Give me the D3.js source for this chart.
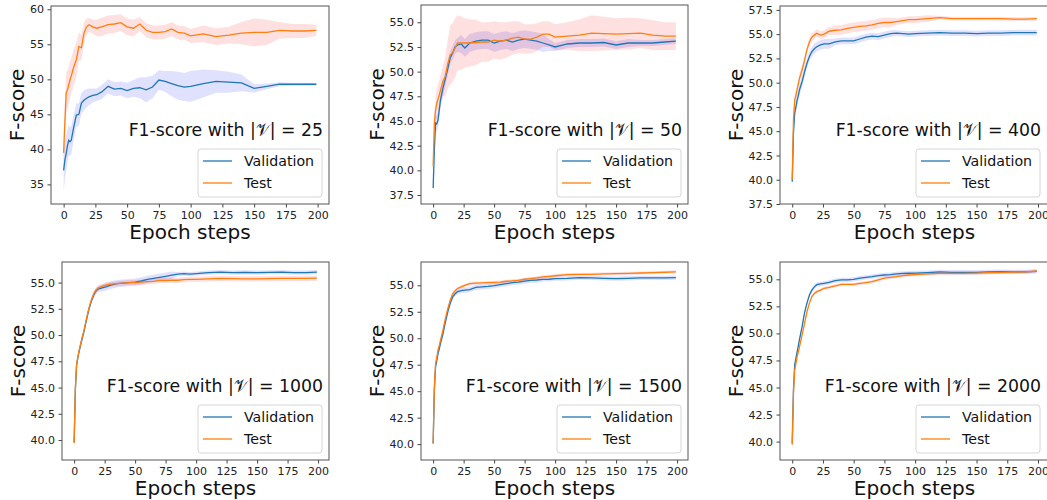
<!DOCTYPE html>
<html>
<head>
<meta charset="utf-8">
<script src="https://cdn.jsdelivr.net/npm/d3@7"></script>
<style>
  body { margin: 0; background: #fff; }
  svg { font-family: "DejaVu Sans", sans-serif; }
</style>
</head>
<body>
<svg id="chart" width="1047" height="500"></svg>
<script>
let epochs = [0, 1, 2, 3, 4, 5, 6, 8, 10, 12, 14, 16, 18, 20, 23, 26, 30, 35, 40, 45, 50,
    55, 60, 65, 70, 75, 80, 85, 90, 95, 100, 110, 120, 130, 140, 150, 160, 170, 180, 190, 199]

let sizes = ['25', '50', '400', '1000', '1500', '2000']
let xTicks = [0, 25, 50, 75, 100, 125, 150, 175, 200]

// |V| = 25
let val25 = [37.0, 38.5, 39.4, 40.5, 41.3, 41.1, 41.3, 43.2, 44.9, 45.0, 46.6, 47.0, 47.3, 47.5, 47.7, 47.8, 48.2, 49.0, 48.6, 48.7, 48.4,
    48.7, 48.8, 48.5, 48.9, 49.9, 49.7, 49.4, 49.1, 48.9, 49.0, 49.4, 49.7, 49.6, 49.5, 48.7, 49.0, 49.3, 49.3, 49.3, 49.3]
let valSd25 = [3.0, 2.8, 2.5, 2.3, 2.2, 2.0, 2.0, 1.8, 1.7, 1.6, 1.5, 1.4, 1.3, 1.2, 1.0, 0.9, 1.0, 1.0, 1.0, 1.0, 1.1,
    1.2, 1.5, 1.8, 1.6, 1.4, 1.5, 1.8, 2.0, 2.0, 2.2, 2.0, 1.6, 1.5, 1.2, 0.6, 0.4, 0.3, 0.2, 0.2, 0.2]
let test25 = [39.5, 44.0, 48.0, 48.5, 49.2, 49.9, 50.5, 51.8, 52.8, 54.7, 54.5, 56.6, 57.5, 57.8, 57.5, 57.3, 57.5, 57.8, 57.9, 58.1, 57.5,
    57.3, 57.9, 57.0, 56.7, 56.7, 56.8, 57.2, 56.7, 56.6, 56.2, 56.5, 56.1, 56.3, 56.6, 56.7, 56.7, 57.0, 56.9, 56.9, 57.0]
let testSd25 = [2.0, 3.0, 3.0, 2.8, 2.6, 2.5, 2.5, 2.5, 2.5, 2.0, 1.8, 1.5, 1.2, 1.0, 1.0, 1.2, 1.3, 1.3, 1.3, 1.2, 1.2,
    1.2, 1.0, 1.0, 1.0, 1.0, 1.0, 1.0, 1.0, 1.0, 1.0, 1.2, 1.2, 1.2, 1.6, 2.0, 1.8, 1.2, 1.0, 1.0, 0.8]

// |V| = 50
let val50 = [38.2, 42.1, 44.8, 44.7, 45.1, 46.1, 47.1, 48.3, 49.3, 50.3, 51.4, 51.9, 52.5, 52.7, 52.8, 52.4, 52.9, 53.1, 53.2, 53.2, 52.9,
    53.1, 53.2, 53.0, 53.2, 53.3, 53.2, 53.1, 52.9, 52.7, 52.5, 52.8, 52.9, 52.9, 52.95, 52.7, 52.9, 52.9, 52.9, 53.0, 53.1]
let valSd50 = [0.6, 0.8, 0.8, 0.8, 0.8, 0.8, 0.8, 0.8, 0.8, 0.7, 0.7, 0.7, 0.7, 0.7, 0.9, 0.9, 0.9, 0.9, 0.9, 0.9, 0.9,
    0.9, 0.9, 0.9, 0.9, 0.9, 0.9, 0.9, 0.9, 0.6, 0.4, 0.4, 0.4, 0.4, 0.4, 0.4, 0.4, 0.3, 0.3, 0.3, 0.3]
let test50 = [40.4, 44.8, 46.1, 46.8, 47.2, 47.6, 48.1, 49.0, 49.5, 50.8, 51.7, 51.9, 52.4, 52.9, 52.9, 52.9, 52.9, 52.95, 53.0, 53.0, 53.2,
    53.1, 53.2, 53.4, 53.5, 53.3, 53.3, 53.5, 53.8, 53.8, 53.5, 53.6, 53.7, 53.9, 53.85, 53.8, 53.85, 53.9, 53.7, 53.6, 53.6]
let testSd50 = [0.5, 1.0, 1.2, 1.5, 1.5, 1.5, 1.5, 1.5, 2.0, 2.5, 3.0, 3.0, 3.0, 2.8, 2.7, 2.5, 2.4, 2.3, 2.0, 2.0, 1.9,
    1.9, 1.8, 1.7, 1.6, 1.5, 1.5, 1.4, 1.3, 1.3, 1.3, 1.4, 1.6, 1.8, 1.7, 1.6, 1.6, 1.5, 1.5, 1.4, 1.4]

// |V| = 400
let val400 = [39.8, 44.8, 46.9, 47.5, 48.2, 48.7, 49.3, 50.1, 51.1, 52.0, 52.7, 53.2, 53.5, 53.7, 53.9, 54.0, 54.0, 54.2, 54.3, 54.3, 54.3,
    54.5, 54.7, 54.8, 54.75, 54.9, 55.05, 55.1, 55.05, 55.0, 55.05, 55.1, 55.15, 55.1, 55.1, 55.05, 55.1, 55.1, 55.15, 55.15, 55.15]
let valSd400 = [0.8, 0.6, 0.6, 0.6, 0.6, 0.6, 0.6, 0.6, 0.6, 0.5, 0.5, 0.5, 0.5, 0.5, 0.5, 0.5, 0.5, 0.35, 0.35, 0.35, 0.35,
    0.35, 0.35, 0.35, 0.35, 0.35, 0.35, 0.3, 0.3, 0.3, 0.3, 0.3, 0.3, 0.3, 0.3, 0.3, 0.3, 0.3, 0.3, 0.3, 0.3]
let test400 = [40.0, 46.2, 48.2, 48.7, 49.3, 49.9, 50.5, 51.3, 52.3, 53.4, 54.2, 54.7, 54.9, 55.1, 54.9, 55.0, 55.3, 55.4, 55.45, 55.6, 55.7,
    55.8, 55.85, 55.95, 56.1, 56.2, 56.2, 56.3, 56.4, 56.5, 56.5, 56.6, 56.7, 56.6, 56.6, 56.6, 56.6, 56.6, 56.55, 56.55, 56.6]
let testSd400 = [0.5, 0.5, 0.5, 0.5, 0.5, 0.5, 0.5, 0.5, 0.5, 0.4, 0.4, 0.4, 0.4, 0.4, 0.4, 0.4, 0.4, 0.5, 0.5, 0.5, 0.5,
    0.5, 0.5, 0.5, 0.5, 0.5, 0.5, 0.35, 0.35, 0.35, 0.35, 0.35, 0.2, 0.2, 0.2, 0.2, 0.2, 0.2, 0.2, 0.2, 0.2]

// |V| = 1000
let val1000 = [39.8, 44.8, 47.1, 47.8, 48.4, 48.9, 49.4, 50.3, 51.4, 52.4, 53.2, 53.8, 54.2, 54.4, 54.5, 54.6, 54.75, 54.9, 54.95, 55.0, 55.05,
    55.15, 55.3, 55.4, 55.5, 55.6, 55.7, 55.8, 55.85, 55.8, 55.85, 55.95, 56.0, 55.95, 55.97, 55.95, 55.97, 56.0, 55.95, 55.95, 56.0]
let valSd1000 = [0.3, 0.3, 0.3, 0.3, 0.3, 0.3, 0.3, 0.3, 0.3, 0.3, 0.3, 0.3, 0.3, 0.3, 0.35, 0.35, 0.35, 0.35, 0.35, 0.35, 0.35,
    0.35, 0.35, 0.35, 0.35, 0.35, 0.35, 0.2, 0.2, 0.2, 0.2, 0.2, 0.2, 0.2, 0.2, 0.2, 0.2, 0.2, 0.2, 0.2, 0.2]
let test1000 = [39.7, 44.9, 47.2, 47.9, 48.5, 49.0, 49.5, 50.4, 51.5, 52.5, 53.3, 53.9, 54.3, 54.5, 54.65, 54.75, 54.85, 54.9, 54.95, 55.0, 55.0,
    55.05, 55.1, 55.12, 55.2, 55.2, 55.22, 55.22, 55.28, 55.3, 55.3, 55.35, 55.4, 55.38, 55.35, 55.35, 55.38, 55.4, 55.4, 55.4, 55.42]
let testSd1000 = [0.3, 0.25, 0.25, 0.25, 0.25, 0.25, 0.25, 0.25, 0.25, 0.25, 0.25, 0.25, 0.25, 0.25, 0.25, 0.25, 0.25, 0.25, 0.25, 0.25, 0.25,
    0.25, 0.25, 0.25, 0.25, 0.25, 0.25, 0.25, 0.25, 0.25, 0.25, 0.25, 0.25, 0.25, 0.25, 0.25, 0.25, 0.25, 0.25, 0.25, 0.25]

// |V| = 1500
let val1500 = [40.06, 45.1, 47.3, 47.9, 48.55, 49.0, 49.5, 50.4, 51.5, 52.5, 53.3, 53.9, 54.2, 54.4, 54.5, 54.55, 54.6, 54.8, 54.85, 54.9, 54.97,
    55.06, 55.15, 55.25, 55.3, 55.4, 55.47, 55.5, 55.55, 55.57, 55.63, 55.66, 55.72, 55.7, 55.66, 55.63, 55.66, 55.7, 55.7, 55.7, 55.72]
let valSd1500 = [0.3, 0.25, 0.25, 0.25, 0.25, 0.25, 0.25, 0.25, 0.25, 0.25, 0.25, 0.25, 0.25, 0.25, 0.25, 0.25, 0.25, 0.25, 0.25, 0.25, 0.25,
    0.25, 0.25, 0.25, 0.25, 0.25, 0.25, 0.25, 0.2, 0.2, 0.2, 0.2, 0.2, 0.2, 0.2, 0.2, 0.2, 0.2, 0.2, 0.2, 0.2]
let test1500 = [40.06, 45.4, 47.6, 48.2, 48.9, 49.3, 49.8, 50.75, 51.85, 52.8, 53.6, 54.2, 54.5, 54.7, 54.85, 55.0, 55.15, 55.2, 55.22, 55.25, 55.27,
    55.3, 55.38, 55.41, 55.47, 55.57, 55.63, 55.7, 55.8, 55.85, 55.9, 56.0, 56.04, 56.04, 56.07, 56.1, 56.13, 56.16, 56.2, 56.23, 56.26]
let testSd1500 = [0.2, 0.15, 0.15, 0.15, 0.15, 0.15, 0.15, 0.15, 0.15, 0.15, 0.15, 0.15, 0.15, 0.15, 0.15, 0.15, 0.15, 0.15, 0.15, 0.15, 0.15,
    0.15, 0.15, 0.15, 0.15, 0.15, 0.15, 0.15, 0.15, 0.15, 0.15, 0.15, 0.15, 0.15, 0.15, 0.15, 0.15, 0.15, 0.15, 0.15, 0.15]

// |V| = 2000
let val2000 = [39.85, 44.8, 47.1, 47.7, 48.3, 48.9, 49.5, 50.6, 51.9, 52.8, 53.55, 54.0, 54.3, 54.5, 54.57, 54.63, 54.72, 54.88, 54.94, 54.95, 55.0,
    55.1, 55.18, 55.25, 55.34, 55.4, 55.43, 55.5, 55.55, 55.56, 55.58, 55.62, 55.68, 55.65, 55.65, 55.65, 55.68, 55.7, 55.68, 55.68, 55.74]
let valSd2000 = [0.3, 0.2, 0.2, 0.2, 0.2, 0.2, 0.2, 0.2, 0.2, 0.2, 0.2, 0.2, 0.2, 0.2, 0.2, 0.2, 0.2, 0.2, 0.2, 0.2, 0.2,
    0.2, 0.2, 0.2, 0.2, 0.2, 0.2, 0.2, 0.2, 0.2, 0.2, 0.2, 0.2, 0.2, 0.2, 0.2, 0.2, 0.2, 0.2, 0.2, 0.2]
let test2000 = [39.7, 44.5, 46.6, 47.2, 47.85, 48.3, 48.8, 49.85, 50.9, 52.0, 52.8, 53.4, 53.7, 53.86, 54.0, 54.17, 54.26, 54.4, 54.54, 54.54, 54.54,
    54.63, 54.7, 54.78, 54.94, 55.1, 55.18, 55.25, 55.34, 55.4, 55.43, 55.5, 55.55, 55.55, 55.55, 55.58, 55.62, 55.65, 55.66, 55.68, 55.77]
let testSd2000 = [0.2, 0.15, 0.15, 0.15, 0.15, 0.15, 0.15, 0.15, 0.15, 0.15, 0.15, 0.15, 0.15, 0.15, 0.15, 0.15, 0.15, 0.15, 0.15, 0.15, 0.15,
    0.15, 0.15, 0.15, 0.15, 0.15, 0.15, 0.15, 0.15, 0.15, 0.15, 0.15, 0.15, 0.15, 0.15, 0.15, 0.15, 0.15, 0.15, 0.15, 0.15]

let valMeans = [val25, val50, val400, val1000, val1500, val2000]
let valSds = [valSd25, valSd50, valSd400, valSd1000, valSd1500, valSd2000]
let testMeans = [test25, test50, test400, test1000, test1500, test2000]
let testSds = [testSd25, testSd50, testSd400, testSd1000, testSd1500, testSd2000]

let yDomains = [[32.2, 60.47], [36.59, 56.75], [37.5, 57.9], [38.1, 56.96], [38.5, 57.2], [38.3, 56.6]]
let yTicks = [
    [35, 40, 45, 50, 55, 60],
    [37.5, 40, 42.5, 45, 47.5, 50, 52.5, 55],
    [37.5, 40, 42.5, 45, 47.5, 50, 52.5, 55, 57.5],
    [40, 42.5, 45, 47.5, 50, 52.5, 55],
    [40, 42.5, 45, 47.5, 50, 52.5, 55],
    [40, 42.5, 45, 47.5, 50, 52.5, 55]
]

// axes boxes in the figure [left, top, right, bottom]
let frames = [
    [51, 6, 329, 204], [421, 5, 688, 204], [780, 6, 1049, 204],
    [62, 262, 329, 460], [421, 262, 688, 460], [780, 262, 1049, 460]
]

let blue = '#1f77b4', orange = '#ff7f0e'
let svg = d3.select('#chart')

let drawPanel = (i) => {
    let [l, t, r, b] = frames[i]
    let x = d3.scaleLinear().domain([-9.95, 208.95]).range([l, r])
    let y = d3.scaleLinear().domain(yDomains[i]).range([b, t])
    let g = svg.append('g')

    let clipId = 'clip' + i
    g.append('clipPath').attr('id', clipId)
        .append('rect').attr('x', l).attr('y', t).attr('width', r - l).attr('height', b - t)
    let plot = g.append('g').attr('clip-path', `url(#${clipId})`)

    let series = [
        { mean: valMeans[i], sd: valSds[i], line: blue, band: 'blue' },
        { mean: testMeans[i], sd: testSds[i], line: orange, band: 'red' }
    ]
    let rows = s => epochs.map((e, k) => ({ e: e, m: s.mean[k], sd: s.sd[k] }))

    // shaded spread first, then the mean lines on top
    series.forEach(s => {
        plot.append('path')
            .datum(rows(s))
            .attr('fill', s.band)
            .attr('fill-opacity', 0.12)
            .attr('d', d3.area().x(d => x(d.e)).y0(d => y(d.m - d.sd)).y1(d => y(d.m + d.sd)))
    })
    series.forEach(s => {
        plot.append('path')
            .datum(rows(s))
            .attr('fill', 'none')
            .attr('stroke', s.line)
            .attr('stroke-width', 1.3)
            .attr('d', d3.line().x(d => x(d.e)).y(d => y(d.m)))
    })

    // axes
    let fmt = i === 0 ? d3.format('d') : d3.format('.1f')
    let xAxis = g.append('g').attr('transform', `translate(0,${b})`)
        .call(d3.axisBottom(x).tickValues(xTicks).tickSize(3.5).tickPadding(3.5).tickFormat(d3.format('d')))
    let yAxis = g.append('g').attr('transform', `translate(${l},0)`)
        .call(d3.axisLeft(y).tickValues(yTicks[i]).tickSize(3.5).tickPadding(3.5).tickFormat(fmt))
    ;[xAxis, yAxis].forEach(a => {
        a.select('.domain').remove()
        a.selectAll('line').attr('stroke', '#444')
        a.selectAll('text').attr('font-size', 11).attr('fill', '#222')
            .attr('font-family', '"DejaVu Sans", sans-serif')
    })

    g.append('rect').attr('x', l).attr('y', t).attr('width', r - l).attr('height', b - t)
        .attr('fill', 'none').attr('stroke', '#555').attr('stroke-width', 1)

    // axis labels
    let tickLeft = d3.min(yAxis.selectAll('text').nodes(), n => n.getBBox().x) + l
    g.append('text')
        .attr('transform', `translate(${tickLeft - 13},${(t + b) / 2}) rotate(-90)`)
        .attr('text-anchor', 'middle').attr('dominant-baseline', 'central')
        .attr('font-size', 20).attr('fill', '#111')
        .text('F-score')
    g.append('text')
        .attr('x', (l + r) / 2).attr('y', b + 35)
        .attr('text-anchor', 'middle')
        .attr('font-size', 20).attr('fill', '#111')
        .text('Epoch steps')

    // right-aligned caption inside the axes
    let boxRight = Math.min(r, 1047) - 7
    g.append('text')
        .attr('x', boxRight + 1).attr('y', b - 68)
        .attr('text-anchor', 'end')
        .attr('font-size', 17.3).attr('fill', '#111')
        .text(`F1-score with |\u{1D4B1}| = ${sizes[i]}`)

    // legend
    let lg = g.append('g').attr('transform', `translate(${boxRight - 124},${b - 7 - 48})`)
    lg.append('rect').attr('width', 124).attr('height', 48).attr('rx', 3)
        .attr('fill', '#fff').attr('fill-opacity', 0.8).attr('stroke', '#d6d6d6')
    let items = [['Validation', blue], ['Test', orange]]
    items.forEach(([name, c], k) => {
        let yy = 12 + k * 22
        lg.append('line').attr('x1', 5).attr('x2', 34).attr('y1', yy).attr('y2', yy)
            .attr('stroke', c).attr('stroke-width', 1.3)
        lg.append('text').attr('x', 46).attr('y', yy).attr('dominant-baseline', 'central')
            .attr('font-size', 14.2).attr('fill', '#111').text(name)
    })
}

frames.forEach((f, i) => drawPanel(i))
</script>
</body>
</html>
